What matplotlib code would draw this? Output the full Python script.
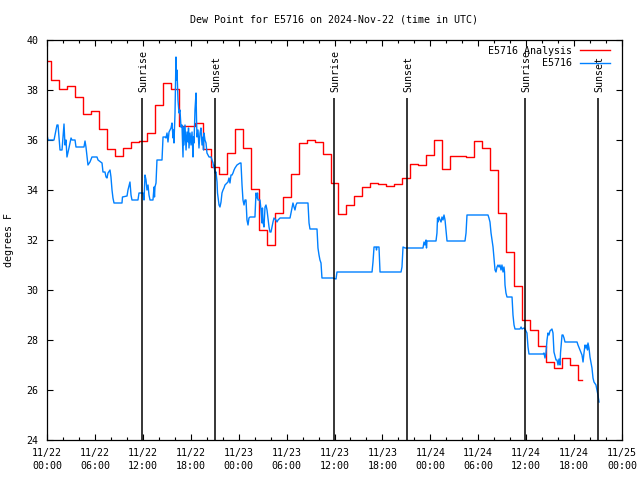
import matplotlib
matplotlib.use("Agg")
import matplotlib.pyplot as plt
import numpy as np

# ---------------- data ----------------
# Analysis (hourly values, hours since 11/22 00:00 UTC)
analysis_hours = list(range(0, 68))
analysis_vals = [39.16, 38.4, 38.03, 38.16, 37.73, 37.04, 37.16, 36.44, 35.64, 35.36,
                 35.68, 35.92, 35.96, 36.27, 37.4, 38.28, 38.04, 36.56, 36.56, 36.68,
                 35.64, 34.9, 34.64, 35.48, 36.44, 35.68, 34.04, 32.4, 31.8, 33.08,
                 33.72, 34.64, 35.88, 36.0, 35.92, 35.44, 34.29, 33.04, 33.4, 33.76,
                 34.12, 34.29, 34.24, 34.16, 34.24, 34.48, 35.04, 35.0, 35.4, 36.0,
                 34.84, 35.36, 35.36, 35.32, 35.96, 35.68, 34.8, 33.08, 31.52, 30.16,
                 28.8, 28.4, 27.76, 27.12, 26.88, 27.28, 27.0, 26.4]

# Station observations (hours since 11/22 00:00 UTC, degrees F)
obs_hours = [0, 0.13, 0.88, 1.25, 1.38, 1.63, 1.88, 2.13, 2.25, 2.38, 2.50, 2.75, 3.01, 3.13, 3.51,
             3.63, 4.63, 4.76, 4.88, 5.13, 5.38, 5.63, 6.26, 6.39, 6.89, 7.01, 7.26, 7.39, 7.51,
             7.64, 7.89, 8.01, 8.14, 8.26, 8.39, 9.39, 9.45, 10.02, 10.14, 10.39, 10.52, 10.64,
             11.39, 11.52, 11.90,
             12.02, 12.15, 12.27, 12.40, 12.52, 12.65, 12.77, 12.90, 13.27, 13.40, 13.46, 13.52,
             13.65, 13.77, 14.40, 14.53, 14.78, 14.90, 15.03, 15.15, 15.28, 15.53, 15.65, 15.78,
             15.84, 15.90, 16.03, 16.15, 16.22, 16.28, 16.40, 16.53, 16.65, 16.78, 16.90, 17.03,
             17.09, 17.15, 17.28, 17.41, 17.53, 17.66, 17.72, 17.78, 17.91, 18.03, 18.16, 18.28,
             18.34, 18.41, 18.53, 18.66, 18.72, 18.78, 18.91, 19.03, 19.16, 19.28, 19.41, 19.53,
             19.60, 19.66, 19.78, 19.91, 20.03, 20.29, 20.54, 20.66, 20.79, 20.85, 20.91, 21.04,
             21.16, 21.29, 21.35, 21.41, 21.54, 21.66, 21.79, 21.91, 22.04, 22.16, 22.29, 22.54,
             22.66, 22.79, 22.91, 23.04, 23.17, 23.29, 23.42, 23.54, 23.79, 24.17,
             24.29, 24.42, 24.54, 24.67, 24.79, 24.92, 25.04, 25.17, 25.29, 25.42, 26.04, 26.17,
             26.30, 26.36, 26.42, 26.67, 26.80, 26.92, 26.98, 27.05, 27.17, 27.30, 27.42, 27.55,
             27.67, 27.80, 27.92, 28.05, 28.17, 28.30, 28.42, 28.67, 28.80, 28.93, 29.18, 30.43,
             30.55, 30.68, 30.80, 30.93, 31.05, 31.18, 31.30, 32.68, 32.81, 32.93, 33.81, 33.93,
             34.06, 34.18, 34.31, 34.43, 35.81,
             36.19, 36.31, 36.69, 40.70, 40.82, 40.95, 41.20, 41.26, 41.32, 41.57, 41.70, 44.33,
             44.45, 44.58, 44.83, 47.08, 47.21, 47.33, 47.46, 47.52, 47.58, 48.71, 48.83, 48.90,
             48.96, 49.08, 49.21, 49.34, 49.46, 49.59, 49.71, 49.84, 49.96, 50.09, 52.34, 52.47,
             52.59, 55.22, 55.34, 55.47, 55.60, 55.72, 55.85, 55.97, 56.10, 56.22, 56.35, 56.47,
             56.60, 56.72, 56.85, 56.97, 57.10, 57.22, 57.29, 57.35, 57.47, 57.60, 58.23, 58.35,
             58.48, 58.60, 59.23, 59.36, 59.48, 59.73, 59.85, 59.98, 60.10, 60.23, 60.35, 62.11,
             62.23, 62.36, 62.48, 62.61, 62.73, 62.86, 62.98, 63.23, 63.36, 63.42, 63.48, 63.74,
             63.86, 63.99, 64.11, 64.24, 64.30, 64.49, 64.61, 64.74, 64.86, 66.37, 66.49, 66.74,
             66.99, 67.12, 67.24, 67.37, 67.49, 67.62, 67.68, 67.74, 67.87, 67.99, 68.24, 68.37,
             68.49, 68.74, 68.87, 68.99, 69.12]
obs_vals = [36.2, 36.0, 36.0, 36.6, 36.6, 35.6, 35.6, 36.64, 35.8, 36.0, 35.32, 35.68, 36.08, 36.0, 36.0,
            35.72, 35.72, 35.96, 35.72, 35.0, 35.12, 35.32, 35.32, 35.2, 35.08, 34.72, 34.72, 34.52, 34.48,
            34.68, 34.8, 34.52, 34.0, 33.68, 33.48, 33.48, 33.72, 33.76, 34.0, 34.32, 33.8, 33.6,
            33.6, 33.88, 33.88,
            33.88, 33.6, 34.6, 34.4, 34.0, 34.2, 33.8, 33.6, 33.6, 34.12, 33.72, 34.12,
            34.28, 35.2, 35.2, 36.12, 36.12, 36.08, 36.28, 35.92, 36.32, 36.48, 36.68, 36.08,
            36.4, 35.88, 37.08, 39.32, 38.4, 38.8, 37.6, 37.08, 37.2, 36.52, 36.6, 35.32,
            36.52, 35.8, 36.6, 35.6, 36.32, 35.92, 36.48, 35.68, 36.28, 35.8, 36.32, 35.32,
            36.12, 35.88, 37.2, 37.88, 36.88, 36.12, 36.4, 35.68, 36.28, 36.48, 35.8, 36.12,
            35.6, 36.28, 36.0, 35.88, 35.48, 35.32, 35.32, 35.2, 35.08, 34.92, 35.0, 34.68,
            34.72, 34.32, 33.88, 33.72, 33.4, 33.32, 33.52, 33.88, 34.0, 34.08, 34.2, 34.28,
            34.32, 34.48, 34.28, 34.6, 34.6, 34.68, 34.8, 34.88, 35.0, 35.08,
            35.08, 34.2, 33.6, 33.4, 33.6, 33.6, 32.8, 32.6, 32.88, 32.92, 32.92, 33.88,
            33.68, 33.88, 33.6, 33.6, 33.2, 32.68, 33.28, 32.72, 32.52, 33.32, 33.4, 33.2,
            32.88, 32.52, 32.32, 32.32, 32.52, 32.72, 32.88, 32.8, 32.72, 32.8, 32.88, 32.88,
            33.08, 33.28, 33.48, 33.32, 33.2, 33.4, 33.48, 33.48, 32.68, 32.44, 32.44, 31.68,
            31.4, 31.2, 31.08, 30.48, 30.48,
            30.44, 30.72, 30.72, 30.72, 31.12, 31.72, 31.72, 31.6, 31.72, 31.72, 30.72, 30.72,
            30.92, 31.72, 31.68, 31.68, 31.92, 31.8, 32.0, 31.68, 31.96, 31.96, 32.28, 32.88,
            32.72, 32.92, 32.8, 32.72, 32.92, 32.8, 33.0, 32.8, 32.4, 31.96, 31.96, 32.28,
            33.0, 33.0, 32.88, 32.72, 32.28, 32.0, 31.72, 31.28, 30.8, 30.72, 30.92, 31.0,
            30.92, 31.0, 30.8, 31.0, 30.72, 30.92, 30.72, 30.2, 29.88, 29.72, 29.72, 29.0,
            28.6, 28.44, 28.44, 28.52, 28.44, 28.48, 28.44, 28.36, 28.28, 27.72, 27.44, 27.44,
            27.48, 27.28, 27.48, 28.0, 28.28, 28.2, 28.36, 28.44, 28.28, 27.88, 27.52, 27.2,
            27.2, 27.0, 27.24, 27.0, 27.48, 28.2, 28.2, 28.08, 27.92, 27.92, 27.8, 27.6,
            27.4, 27.12, 27.48, 27.8, 27.68, 27.8, 27.6, 27.88, 27.68, 27.32, 26.88, 26.48,
            26.32, 26.2, 26.0, 25.8, 25.52]

sun_event_hours = [11.90, 21.03, 35.93, 45.07, 59.87, 68.98]
sun_event_names = ["Sunrise", "Sunset", "Sunrise", "Sunset", "Sunrise", "Sunset"]

x_tick_hours = list(range(0, 73, 6))
x_tick_labels = ["11/22\n00:00", "11/22\n06:00", "11/22\n12:00", "11/22\n18:00",
                 "11/23\n00:00", "11/23\n06:00", "11/23\n12:00", "11/23\n18:00",
                 "11/24\n00:00", "11/24\n06:00", "11/24\n12:00", "11/24\n18:00",
                 "11/25\n00:00"]
y_ticks = list(range(24, 41, 2))

title = "Dew Point for E5716 on 2024-Nov-22 (time in UTC)"
ylabel = "degrees F"
label_analysis = "E5716 Analysis"
label_obs = "E5716"

# ---------------- plot ----------------
FONT = "DejaVu Sans Mono"
FS = 7.2
plt.rcParams["font.family"] = FONT

fig = plt.figure(figsize=(6.4, 4.8), dpi=100)
ax = fig.add_axes([47/640, 40/480, 575/640, 400/480])

ax.plot(analysis_hours, analysis_vals, color="#ff0000", lw=1.0,
        drawstyle="steps-mid", label=label_analysis)
ax.plot(obs_hours, obs_vals, color="#0080ff", lw=1.0, label=label_obs)

ax.vlines(sun_event_hours, 24, 37.68, colors="black", lw=1.1)
for t, name in zip(sun_event_hours, sun_event_names):
    ax.annotate(name, (t, 37.92), xytext=(1.0, 0), textcoords="offset points",
                rotation=90, ha="center", va="bottom", fontsize=FS, family=FONT)

ax.set_xlim(0, 72)
ax.set_ylim(24, 40)
ax.set_xticks(x_tick_hours)
ax.set_xticklabels(x_tick_labels, fontsize=FS, linespacing=1.35)
ax.set_xticks(np.arange(0, 73, 2), minor=True)
ax.set_yticks(y_ticks)
ax.set_yticklabels([str(v) for v in y_ticks], fontsize=FS)
ax.tick_params(which="both", direction="in", top=True, right=True, width=0.8)
ax.tick_params(which="major", length=4.5)
ax.tick_params(which="minor", length=2.5)
ax.tick_params(axis="x", which="major", pad=6)
ax.tick_params(axis="y", which="major", pad=6)
for s in ax.spines.values():
    s.set_linewidth(0.9)

ax.set_ylabel(ylabel, fontsize=FS, labelpad=9)
ax.text(0.5, 1 + 20/400, title, transform=ax.transAxes,
        ha="center", va="center", fontsize=FS)

leg = ax.legend(loc="upper right", bbox_to_anchor=(0.99, 1.0), frameon=False,
                markerfirst=False, handlelength=3.0, handletextpad=0.8,
                fontsize=FS, labelspacing=0.25, borderaxespad=0.2)

fig.savefig("out.png", dpi=100)
